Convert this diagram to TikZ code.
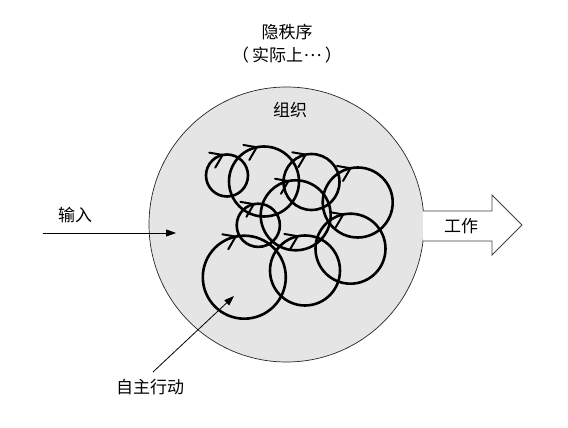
\documentclass[tikz,border=0pt]{standalone}
\usepackage{fontspec}
\newfontfamily\cjk{Noto Sans CJK SC}
\usetikzlibrary{arrows.meta,calc}
\begin{document}
\begin{tikzpicture}[x=1pt,y=1pt,
  lbl/.style={font=\cjk\fontsize{17}{20}\selectfont, inner sep=0pt},
  thinarrow/.style={line width=0.8pt, -{Triangle[length=10pt,width=7pt]}},
  loop/.style={line width=2.6pt},
  barb/.style={line width=2pt, line cap=round, line join=miter}]
\useasboundingbox (0,0) rectangle (568,428);
% organisation
\node[circle, draw=black!85, line width=0.7pt, fill=black!10, minimum size=275pt, inner sep=0pt] (org) at (286.5,203.5) {};
% work arrow
\coordinate (w1) at (423,217);
\coordinate (w2) at (423,187);
\draw[line width=0.8pt, draw=black!75, fill=white]
  (w1) -- (492,217) -- (492,233) -- (522,203) -- (492,173) -- (492,187) -- (w2);
\node[lbl] (work) at (461,202) {工作};
% loops
\foreach \n/\cx/\cy/\r in {A/227/252.5/21, B/264/246.5/35, C/311.5/246/28, D/357.7/225.5/35,
  E/295.7/212.7/35, F/258.3/202.7/21.6, G/244.3/150.8/41.5, H/305/157.5/35, I/350.5/179.3/35}{
  \node[circle, draw, loop, minimum size=2*\r*1pt, inner sep=0pt] (c\n) at (\cx,\cy) {};
  \draw[barb] ($(c\n.center)+(102:\r)+(-13.4,2.3)$) -- ($(c\n.center)+(102:\r)$) -- ($(c\n.center)+(102:\r)+(-7.4,-12.7)$);
}
% labels
\node[lbl] (hidden) at (287,396) {隐秩序};
\node[lbl] (actual) at (287,373) {（\kern3pt 实际上\makebox[1.1em]{\raisebox{0.3em}{…}}\kern3pt）};
\node[lbl] (orglbl) at (290,318) {组织};
\node[lbl] (input) at (75,213) {输入};
\node[lbl] (auto) at (150,41) {自主行动};
% arrows
\coordinate (inS) at (43,195);
\coordinate (inE) at (176,195);
\draw[thinarrow] (inS) -- (inE);
\coordinate (aS) at (153,56);
\coordinate (aE) at (234,132);
\draw[thinarrow] (aS) -- (aE);
\end{tikzpicture}
\end{document}
